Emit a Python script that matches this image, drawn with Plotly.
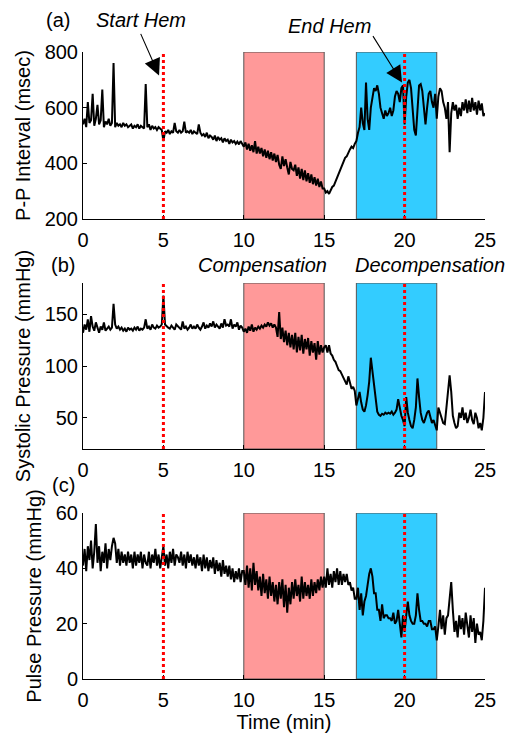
import plotly.graph_objects as go

# ---------------- data ----------------
time_min = [round(i * 0.1, 1) for i in range(251)]

pp_interval = [
    540,560,530,620,545,555,650,535,560,610,
    540,555,665,530,550,540,560,535,545,760,
    530,545,535,540,530,545,535,540,530,535,
    540,525,535,530,540,525,535,530,525,685,
    530,540,520,535,525,530,520,530,525,520,
    480,515,510,520,505,515,510,545,515,510,
    520,510,515,550,510,515,510,520,505,515,
    510,505,540,510,500,505,495,510,490,500,
    495,485,500,480,495,485,490,475,490,480,
    485,470,485,475,480,470,478,468,480,470,
    460,475,450,470,445,465,440,480,435,460,
    435,455,425,450,420,445,415,440,410,435,
    405,430,395,380,425,390,415,385,360,405,
    380,375,395,355,385,345,380,340,375,335,
    365,330,360,325,350,320,345,315,335,310,
    310,295,300,290,305,315,320,335,345,360,
    380,395,405,420,425,440,450,460,455,470,
    480,510,530,600,545,520,690,560,520,600,
    640,670,660,680,650,600,580,560,590,570,
    580,600,570,590,640,660,650,620,670,680,
    540,640,690,700,670,600,520,500,600,680,
    685,660,600,540,600,650,660,620,600,650,
    560,640,670,660,620,600,560,620,440,580,
    620,590,610,560,600,570,620,590,630,580,
    625,585,635,590,620,575,625,590,615,570,
    580,
]

systolic = [
    132,140,135,145,133,148,138,134,142,136,
    132,138,135,142,134,136,138,135,137,160,
    140,136,138,135,137,134,136,133,137,135,
    136,134,137,135,138,134,136,135,137,145,
    136,138,135,140,137,136,139,137,138,140,
    168,140,138,137,136,139,137,135,140,138,
    137,135,143,136,138,135,137,140,136,138,
    136,140,137,135,138,142,136,139,137,141,
    138,143,137,140,138,136,141,137,145,139,
    140,138,145,136,140,138,142,135,139,137,
    133,136,132,138,134,140,133,137,135,138,
    136,139,137,140,138,142,139,141,137,140,
    137,128,152,126,137,123,134,120,132,118,
    130,116,132,113,128,115,130,112,126,116,
    127,110,124,113,122,106,124,111,120,113,
    118,120,113,120,112,110,106,104,100,96,
    95,92,88,86,82,90,84,78,80,76,
    62,70,75,65,58,56,62,72,85,108,
    95,78,65,56,53,52,54,53,55,54,
    55,54,56,53,55,58,68,60,52,48,
    42,70,55,48,42,40,48,60,88,70,
    55,48,45,50,55,57,52,45,48,44,
    38,60,55,48,45,44,60,80,91,75,
    52,45,40,42,55,50,60,48,55,45,
    50,58,48,44,55,50,40,45,38,50,
    75,
]

pulse = [
    41,47,39,48,43,50,40,46,56,42,
    48,39,46,42,49,40,47,43,48,51,
    49,42,47,41,46,42,45,41,46,42,
    45,40,46,41,45,42,46,40,45,42,
    41,46,40,45,42,47,41,45,40,44,
    48,41,45,40,46,42,47,41,45,44,
    42,46,41,45,40,46,42,45,41,44,
    40,45,41,44,39,45,40,44,39,43,
    40,44,38,43,39,42,37,43,38,41,
    37,41,36,40,35,39,36,40,35,39,
    39,34,41,33,40,32,42,34,39,32,
    37,30,38,31,36,29,37,30,35,28,
    34,27,35,29,36,26,34,24,33,27,
    35,29,36,30,34,28,37,29,35,30,
    34,29,36,30,35,31,36,32,37,33,
    37,33,40,34,38,33,39,35,40,34,
    39,34,38,35,38,34,35,32,33,29,
    29,33,25,31,23,28,30,34,38,40,
    37,31,31,25,25,21,27,22,23,23,
    22,22,21,24,20,21,25,20,15,23,
    17,23,28,23,21,20,20,23,31,25,
    21,21,20,20,19,21,21,18,18,19,
    14,19,25,18,23,16,22,23,30,35,
    25,17,21,15,23,18,22,16,24,19,
    15,23,17,22,13,20,16,17,14,21,
    33,
]

hem_events = [5, 20]          # Start Hem, End Hem
compensation = [10, 15]
decompensation = [17, 22]
x_ticks = [0, 5, 10, 15, 20, 25]
panel_labels = ["(a)", "(b)", "(c)"]
y_titles = ["P-P Interval (msec)", "Systolic Pressure (mmHg)", "Pulse Pressure (mmHg)"]
y_ranges = [[200, 800], [20, 180], [0, 60]]
y_ticks = [[200, 400, 600, 800], [50, 100, 150], [0, 20, 40, 60]]
series = [pp_interval, systolic, pulse]

# ---------------- figure ----------------
# the page body adds an 8 px offset; screen pixel = 8 + figure pixel
OFF = 8
W, H = 515 - OFF, 735 - OFF
L, R, T, B = 83 - OFF, 30, 52 - OFF, 735 - 679
PW, PH = W - L - R, H - T - B
FONT = "Liberation Sans, Arial, sans-serif"
FS = 20

def px2x(px):           # screen px -> paper x
    return (px - OFF - L) / PW

def py2y(py):           # screen px -> paper y
    return (H - B - (py - OFF)) / PH

# screen pixel extents of each panel (top, bottom)
panel_px = [(52, 219), (283, 449), (513, 679)]

fig = go.Figure()
layout = dict(
    width=W, height=H,
    margin=dict(l=L, r=R, t=T, b=B),
    paper_bgcolor="white", plot_bgcolor="white",
    showlegend=False,
    font=dict(family=FONT, size=FS, color="black"),
)

shapes = []
annotations = []
for i in range(3):
    xa = "xaxis" if i == 0 else f"xaxis{i+1}"
    ya = "yaxis" if i == 0 else f"yaxis{i+1}"
    xref = "x" if i == 0 else f"x{i+1}"
    yref = "y" if i == 0 else f"y{i+1}"
    top, bot = panel_px[i]
    layout[xa] = dict(
        domain=[0, 1], anchor=yref, range=[0, 25], tickvals=x_ticks,
        showline=True, linecolor="black", linewidth=1, mirror=False,
        ticks="inside", ticklen=4, tickcolor="black", showgrid=False, zeroline=False,
        tickfont=dict(size=FS), ticklabelstandoff=3, automargin=False,
        title=dict(text="Time (min)" if i == 2 else "", font=dict(size=FS), standoff=0),
    )
    layout[ya] = dict(
        domain=[py2y(bot), py2y(top)], anchor=xref, range=y_ranges[i],
        tickvals=y_ticks[i], showline=True, linecolor="black", linewidth=1,
        ticks="inside", ticklen=4, tickcolor="black", showgrid=False, zeroline=False,
        tickfont=dict(size=FS), ticklabelstandoff=0, automargin=False,
        title=dict(text=y_titles[i], font=dict(size=FS), standoff=8),
    )
    ymin, ymax = y_ranges[i]
    # shaded periods
    shapes.append(dict(type="rect", xref=xref, yref=yref, x0=compensation[0], x1=compensation[1],
                       y0=ymin, y1=ymax, fillcolor="#FF9999",
                       line=dict(color="#555555", width=1), layer="below"))
    shapes.append(dict(type="rect", xref=xref, yref=yref, x0=decompensation[0], x1=decompensation[1],
                       y0=ymin, y1=ymax, fillcolor="#33CCFF",
                       line=dict(color="#555555", width=1), layer="below"))
    for ev in hem_events:
        shapes.append(dict(type="line", xref=xref, yref=yref, x0=ev, x1=ev, y0=ymin, y1=ymax,
                           line=dict(color="red", width=3, dash="dot"), layer="above"))
    fig.add_trace(go.Scatter(x=time_min, y=series[i], mode="lines",
                             line=dict(color="black", width=2),
                             xaxis=xref, yaxis=yref, hoverinfo="skip"))

# panel labels and period labels (screen pixel centres)
label_px = [(58, 20), (63, 265), (63, 485)]
for lab, (px, py) in zip(panel_labels, label_px):
    annotations.append(dict(text=lab, xref="paper", yref="paper", x=px2x(px), y=py2y(py),
                            showarrow=False, xanchor="center", yanchor="middle",
                            font=dict(size=FS)))

texts = [("<i>Start Hem</i>", 141, 20), ("<i>End Hem</i>", 329, 26),
         ("<i>Compensation</i>", 262, 265), ("<i>Decompensation</i>", 430, 265)]
for t, px, py in texts:
    annotations.append(dict(text=t, xref="paper", yref="paper", x=px2x(px), y=py2y(py),
                            showarrow=False, xanchor="center", yanchor="middle",
                            font=dict(size=FS)))

annotations += [
    dict(text="", x=4.73, y=716, xref="x", yref="y", showarrow=True, arrowhead=2,
         arrowsize=3, arrowwidth=1.1, arrowcolor="black", ax=-19, ay=-43),
    dict(text="", x=19.84, y=690, xref="x", yref="y", showarrow=True, arrowhead=2,
         arrowsize=3, arrowwidth=1.1, arrowcolor="black", ax=-30, ay=-48),
]

layout["shapes"] = shapes
layout["annotations"] = annotations
fig.update_layout(**layout)
fig.write_html("out.html")
